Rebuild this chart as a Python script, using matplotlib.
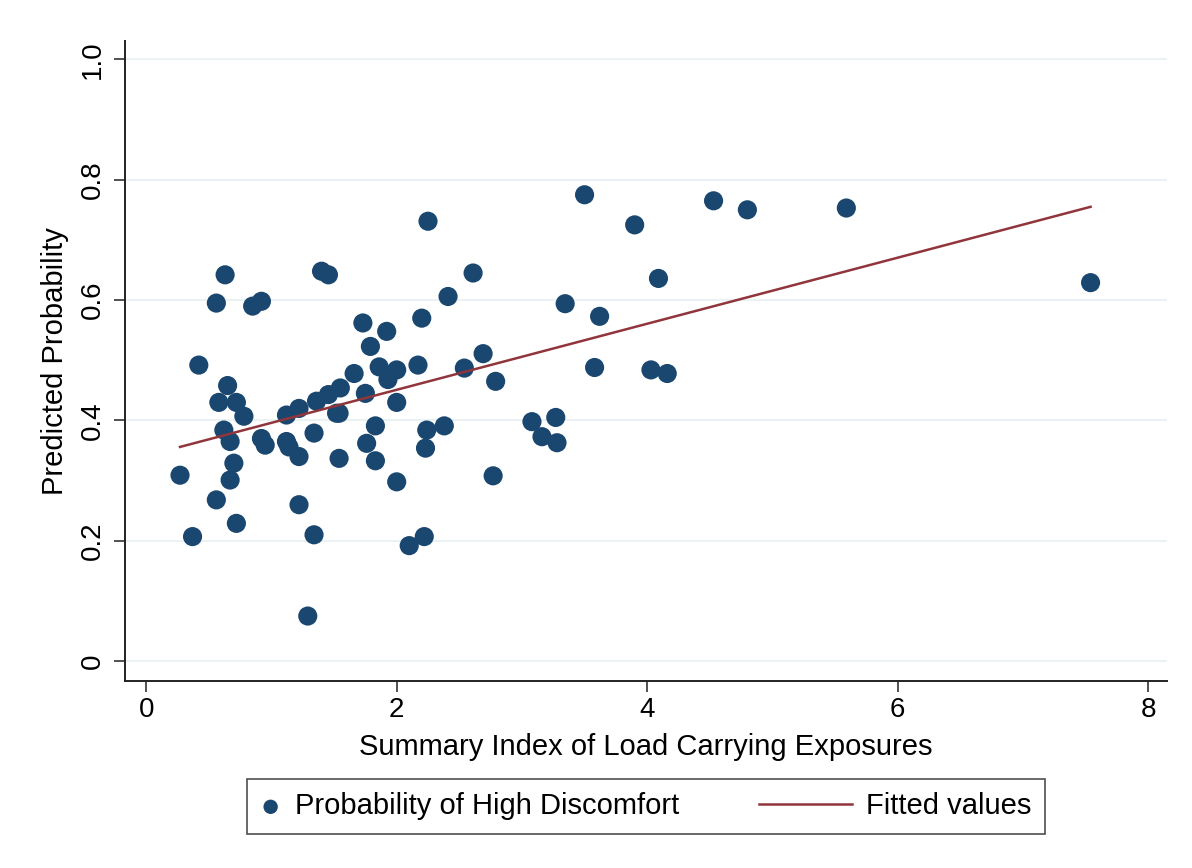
"""Probabilidad predicha vs indice de carga"""
import matplotlib.pyplot as plt
from matplotlib import font_manager
from matplotlib.legend_handler import HandlerBase
from matplotlib.lines import Line2D

# Datos
index_x = [0.27, 0.37, 0.42, 0.56, 0.56, 0.62, 0.63, 0.65, 0.58, 0.72, 0.78,
           0.67, 0.70, 0.67, 0.72, 0.85, 0.92, 0.92, 0.95, 1.12, 1.12, 1.14,
           1.22, 1.22, 1.22, 1.29, 1.34, 1.34, 1.36, 1.40, 1.455, 1.455, 1.52,
           1.54, 1.55, 1.54, 1.66, 1.73, 1.75, 1.76, 1.79, 1.83, 1.83, 1.86,
           1.92, 1.93, 2.00, 2.00, 2.00, 2.10, 2.17, 2.20, 2.22, 2.23, 2.24,
           2.25, 2.38, 2.41, 2.54, 2.61, 2.69, 2.77, 2.79, 3.08, 3.16, 3.27,
           3.28, 3.345, 3.50, 3.58, 3.62, 3.90, 4.03, 4.09, 4.16, 4.53, 4.80,
           5.59, 7.54]
prob_y = [0.309, 0.207, 0.492, 0.595, 0.268, 0.384, 0.642, 0.458, 0.430, 0.430, 0.407,
          0.365, 0.329, 0.301, 0.229, 0.590, 0.598, 0.370, 0.359, 0.409, 0.365, 0.356,
          0.420, 0.340, 0.260, 0.075, 0.379, 0.210, 0.432, 0.648, 0.642, 0.443, 0.412,
          0.337, 0.454, 0.412, 0.478, 0.562, 0.445, 0.362, 0.523, 0.391, 0.333, 0.489,
          0.548, 0.468, 0.484, 0.430, 0.298, 0.192, 0.492, 0.570, 0.207, 0.354, 0.384,
          0.731, 0.391, 0.606, 0.487, 0.645, 0.511, 0.308, 0.465, 0.398, 0.373, 0.405,
          0.363, 0.594, 0.775, 0.488, 0.573, 0.725, 0.484, 0.636, 0.478, 0.765, 0.750,
          0.753, 0.629]
fit_x = [0.27, 7.54]
fit_y = [0.356, 0.755]

AZUL = '#1a476f'
GRANATE = '#90353b'

nombres = {f.name for f in font_manager.fontManager.ttflist}
fuente = 'Liberation Sans Narrow' if 'Liberation Sans Narrow' in nombres else 'Liberation Sans'
plt.rcParams['font.family'] = [fuente, 'DejaVu Sans']


class LineaLarga(HandlerBase):
    """Linea de leyenda que se alarga hacia la izquierda"""
    def create_artists(self, legend, orig_handle, xdescent, ydescent,
                       width, height, fontsize, trans):
        y = height / 2 - ydescent
        linea = Line2D([-xdescent - 52, width - xdescent], [y, y],
                       color=GRANATE, lw=1.8)
        linea.set_transform(trans)
        return [linea]


fig = plt.figure(figsize=(11.92, 8.68), dpi=100)
ax = fig.add_axes([0.105, 0.2154, 0.874, 0.737])

for v in [0, 0.2, 0.4, 0.6, 0.8, 1.0]:
    ax.axhline(v, color='#eaf2f3', lw=1.5, zorder=0)

puntos = ax.scatter(index_x, prob_y, s=190, color=AZUL, edgecolors='none', zorder=2)
recta, = ax.plot(fit_x, fit_y, color=GRANATE, lw=1.8, zorder=3)

ax.set_xlim(-0.168, 8.15)
ax.set_ylim(-0.033, 1.03)
ax.set_xticks([0, 2, 4, 6, 8])
ax.set_yticks([0, 0.2, 0.4, 0.6, 0.8, 1.0])
ax.set_yticklabels(['0', '0.2', '0.4', '0.6', '0.8', '1.0'], rotation=90, va='center')
ax.tick_params(labelsize=20, length=8, width=1.2, color='#333333')
ax.tick_params(axis='y', pad=6)
for lado in ['top', 'right']:
    ax.spines[lado].set_visible(False)
for lado in ['left', 'bottom']:
    ax.spines[lado].set_linewidth(1.4)
    ax.spines[lado].set_color('#222222')

ax.set_xlabel('Summary Index of Load Carrying Exposures', fontsize=21, labelpad=7)
ax.set_ylabel('Predicted Probability', fontsize=21, labelpad=8)

leg = fig.legend([puntos, recta], ['Probability of High Discomfort', 'Fitted values'],
                 loc='center', bbox_to_anchor=(0.542, 0.0709), ncol=2, fontsize=21,
                 frameon=True, fancybox=False, edgecolor='#222222',
                 handlelength=0.7, handletextpad=0.5, columnspacing=5.2,
                 borderpad=0.45, borderaxespad=0, markerscale=0.75,
                 handler_map={Line2D: LineaLarga()})
leg.get_frame().set_linewidth(1.2)

fig.savefig('out.png', dpi=100)
